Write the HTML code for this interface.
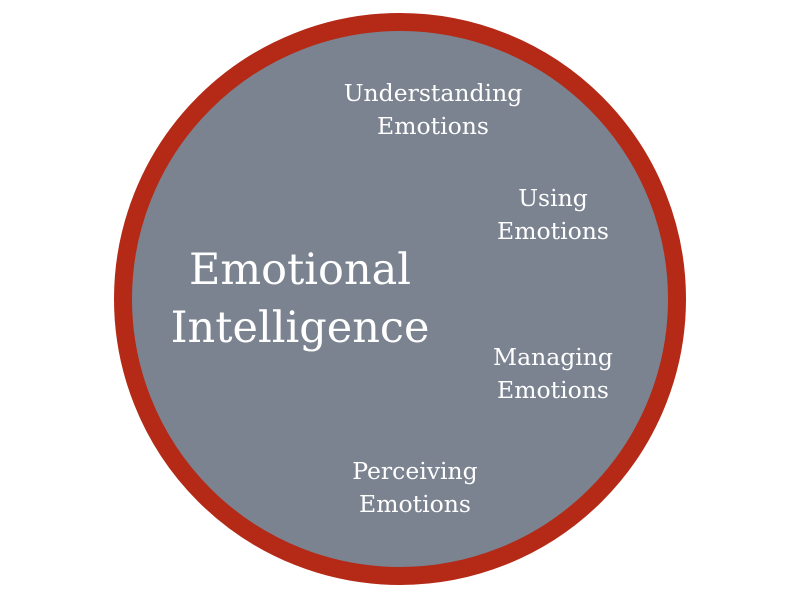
<!DOCTYPE html>
<html><head><style>
body{margin:0;width:800px;height:600px;background:#fff;overflow:hidden;position:relative;font-family:"DejaVu Serif","Liberation Serif",serif;}
.c{position:absolute;left:114px;top:13px;width:536px;height:536px;border:18px solid #b42a17;border-radius:50%;background:#7b8390;}
.t{position:absolute;color:#fff;text-align:center;white-space:nowrap;transform:translate(-50%,-50%);}
.s{font-size:23.5px;line-height:33px;}
.b{font-size:43px;line-height:58px;}
</style></head><body>
<div class="c"></div>
<div class="t s" style="left:433px;top:110px">Understanding<br>Emotions</div>
<div class="t s" style="left:553px;top:215px">Using<br>Emotions</div>
<div class="t s" style="left:553px;top:374px">Managing<br>Emotions</div>
<div class="t s" style="left:415px;top:488px">Perceiving<br>Emotions</div>
<div class="t b" style="left:300px;top:299px">Emotional<br>Intelligence</div>
</body></html>
